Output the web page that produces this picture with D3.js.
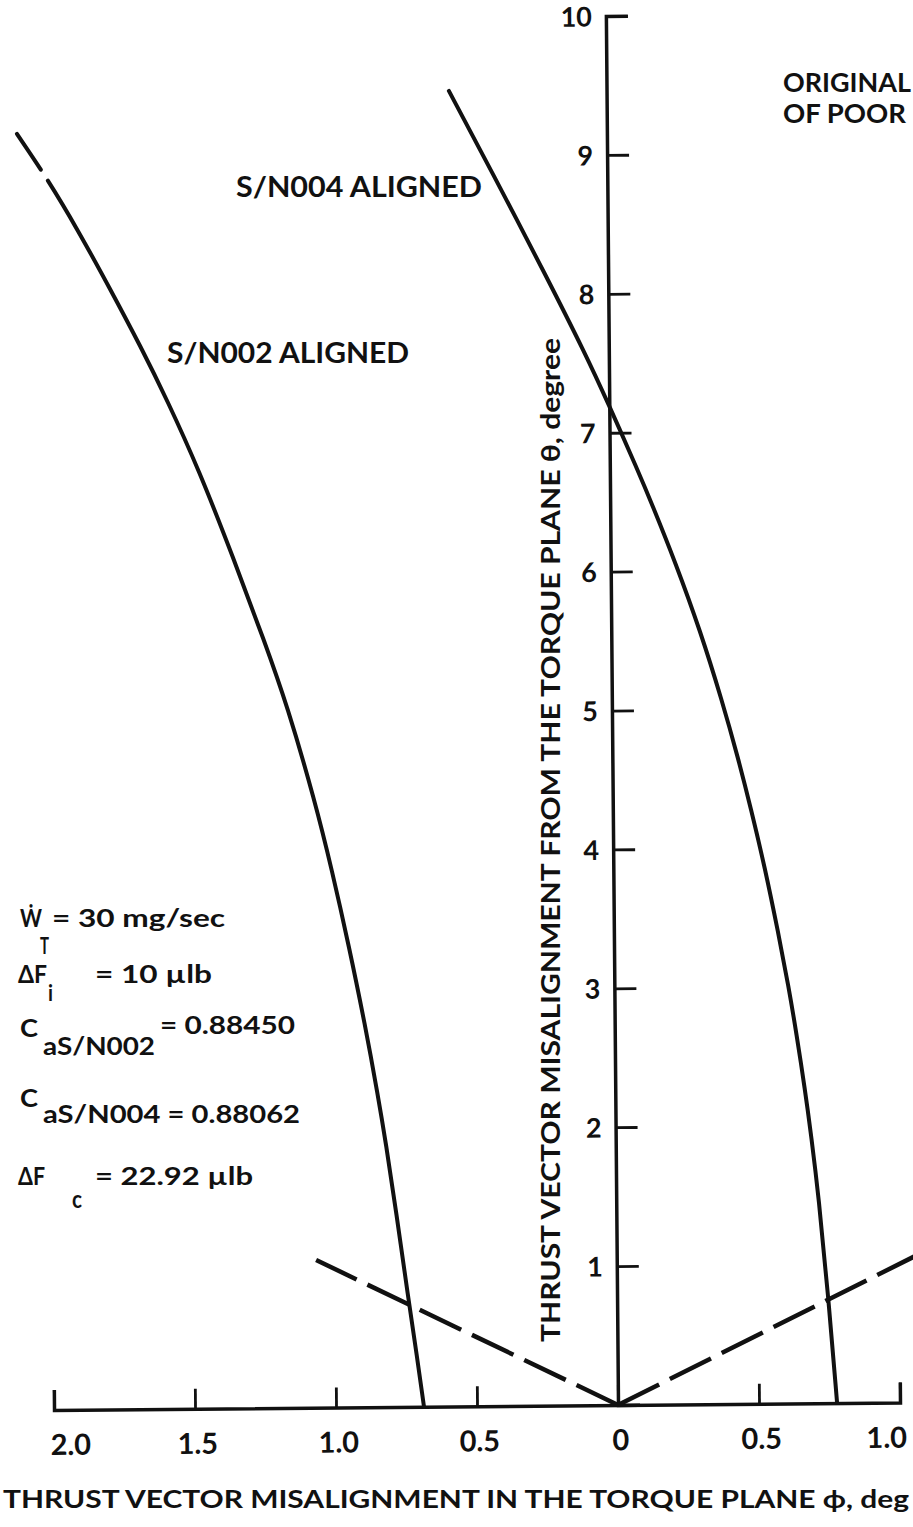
<!DOCTYPE html>
<html><head><meta charset="utf-8">
<script src="https://cdn.jsdelivr.net/npm/d3@7"></script>
<style>
body{margin:0;background:#fff}
svg{display:block;background:#fff}
text{font-family:Lato,"DejaVu Sans",sans-serif;font-weight:700;fill:#111}
</style>
</head><body>
<svg id="c" width="913" height="1527"></svg>
<script>
// ---------- data ----------
const xTicks = [-2, -1.5, -1, -0.5, 0, 0.5, 1];
const xTickLabels = ["2.0", "1.5", "1.0", "0.5", "0", "0.5", "1.0"];
const yTicks = [1, 2, 3, 4, 5, 6, 7, 8, 9, 10];

// S/N002 aligned  [phi, theta]
const sn002 = [
  [-2.092, 9.188], [-1.983, 8.855], [-1.879, 8.493], [-1.770, 8.081],
  [-1.659, 7.647], [-1.568, 7.264], [-1.457, 6.758], [-1.339, 6.129],
  [-1.228, 5.508], [-1.152, 5.060], [-1.056, 4.367], [-0.998, 3.870],
  [-0.940, 3.321], [-0.885, 2.752], [-0.842, 2.247], [-0.815, 1.901],
  [-0.780, 1.396], [-0.741, 0.791], [-0.711, 0.358], [-0.688, 0.0]
];
// S/N004 aligned  [phi, theta]
const sn004 = [
  [-0.559, 9.471], [-0.407, 8.878], [-0.218, 8.125], [-0.083, 7.569],
  [-0.006, 7.222], [0.100, 6.723], [0.151, 6.470], [0.229, 6.065],
  [0.316, 5.567], [0.390, 5.069], [0.445, 4.657], [0.491, 4.275],
  [0.537, 3.864], [0.583, 3.388], [0.618, 2.999], [0.644, 2.667],
  [0.673, 2.256], [0.694, 1.917], [0.718, 1.485], [0.748, 0.793],
  [0.777, 0.0]
];
// dashed reference lines from the origin
const refLeft = [[0, 0], [-1.066, 1.063]];
const refRight = [[0, 0], [1.12, 1.115]];

// ---------- chart ----------
const svg = d3.select("#c");
const x = d3.scaleLinear().domain([-2, 1]).range([54, 900]);
const y = d3.scaleLinear().domain([0, 10]).range([1405, 16]);
const ink = "#111";

// the scanned plot is rotated slightly
const plot = svg.append("g").attr("transform", `rotate(-0.5,${x(0)},${y(0)})`);

// x axis
const gx = plot.append("g")
  .attr("transform", `translate(0,${y(0)})`)
  .call(d3.axisBottom(x).tickValues(xTicks).tickSize(-20).tickPadding(24.5)
    .tickFormat((d, i) => xTickLabels[i]));
gx.attr("font-size", 29).attr("font-family", null);
gx.select(".domain").attr("stroke", ink).attr("stroke-width", 3.5);
gx.selectAll(".tick line").attr("stroke", ink).attr("stroke-width", 2.8);
gx.selectAll(".tick text").attr("fill", ink)
  .attr("dx", d => d === -2 ? 16 : (d === 1 ? -14 : 2));

// y axis
const gy = plot.append("g")
  .attr("transform", `translate(${x(0)},0)`)
  .call(d3.axisLeft(y).tickValues(yTicks).tickSize(-22).tickPadding(14));
gy.attr("font-size", 27).attr("font-family", null);
gy.select(".domain").attr("stroke", ink).attr("stroke-width", 3.5);
gy.selectAll(".tick line").attr("stroke", ink).attr("stroke-width", 2.8);
gy.selectAll(".tick text").attr("fill", ink).attr("dy", "0.36em");

// curves
const line = d3.line().x(d => x(d[0])).y(d => y(d[1])).curve(d3.curveBasis);
plot.append("path").datum(sn002).attr("d", line)
  .attr("fill", "none").attr("stroke", ink).attr("stroke-width", 4)
  .attr("stroke-linecap", "round").attr("stroke-dasharray", "43 13 5000");
plot.append("path").datum(sn004).attr("d", line)
  .attr("fill", "none").attr("stroke", ink).attr("stroke-width", 4)
  .attr("stroke-linecap", "round");

const straight = d3.line().x(d => x(d[0])).y(d => y(d[1]));
[refLeft, refRight].forEach(r => {
  plot.append("path").datum(r).attr("d", straight)
    .attr("fill", "none").attr("stroke", ink).attr("stroke-width", 4.5)
    .attr("stroke-dasharray", "46 12");
});

// ---------- text ----------
function txt(s, tx, ty, w, size) {
  return svg.append("text").attr("x", tx).attr("y", ty)
    .attr("font-size", size)
    .attr("textLength", w).attr("lengthAdjust", "spacingAndGlyphs")
    .text(s);
}

txt("S/N004 ALIGNED", 236, 197, 246, 28);
txt("S/N002 ALIGNED", 167, 363, 242, 28);
txt("ORIGINAL", 783, 92, 128, 26);
txt("OF  POOR", 783, 123, 123, 26);

// parameter block
txt("Ẇ", 20, 927, 22, 25);
txt("T", 40, 954, 9, 22);
txt("= 30 mg/sec", 52, 927, 173, 25);
txt("ΔF", 18, 983, 29, 25);
txt("i", 48, 1001, 5, 22);
txt("= 10 µlb", 95, 983, 117, 25);
txt("C", 20, 1037, 18, 25);
txt("aS/N002", 43, 1055, 112, 25);
txt("= 0.88450", 160, 1034, 135, 25);
txt("C", 20, 1107, 18, 25);
txt("aS/N004 = 0.88062", 43, 1123, 257, 25);
txt("ΔF", 18, 1185, 27, 25);
txt("c", 72, 1208, 10, 24);
txt("= 22.92 µlb", 95, 1185, 158, 25);

// axis titles
txt("THRUST VECTOR MISALIGNMENT IN THE TORQUE PLANE ϕ, deg", 3, 1508, 906, 25);
svg.append("text")
  .attr("transform", "translate(560,1342) rotate(-90)")
  .attr("font-size", 27)
  .attr("textLength", 1004).attr("lengthAdjust", "spacingAndGlyphs")
  .text("THRUST VECTOR MISALIGNMENT FROM THE TORQUE PLANE θ, degree");
</script>
</body></html>
